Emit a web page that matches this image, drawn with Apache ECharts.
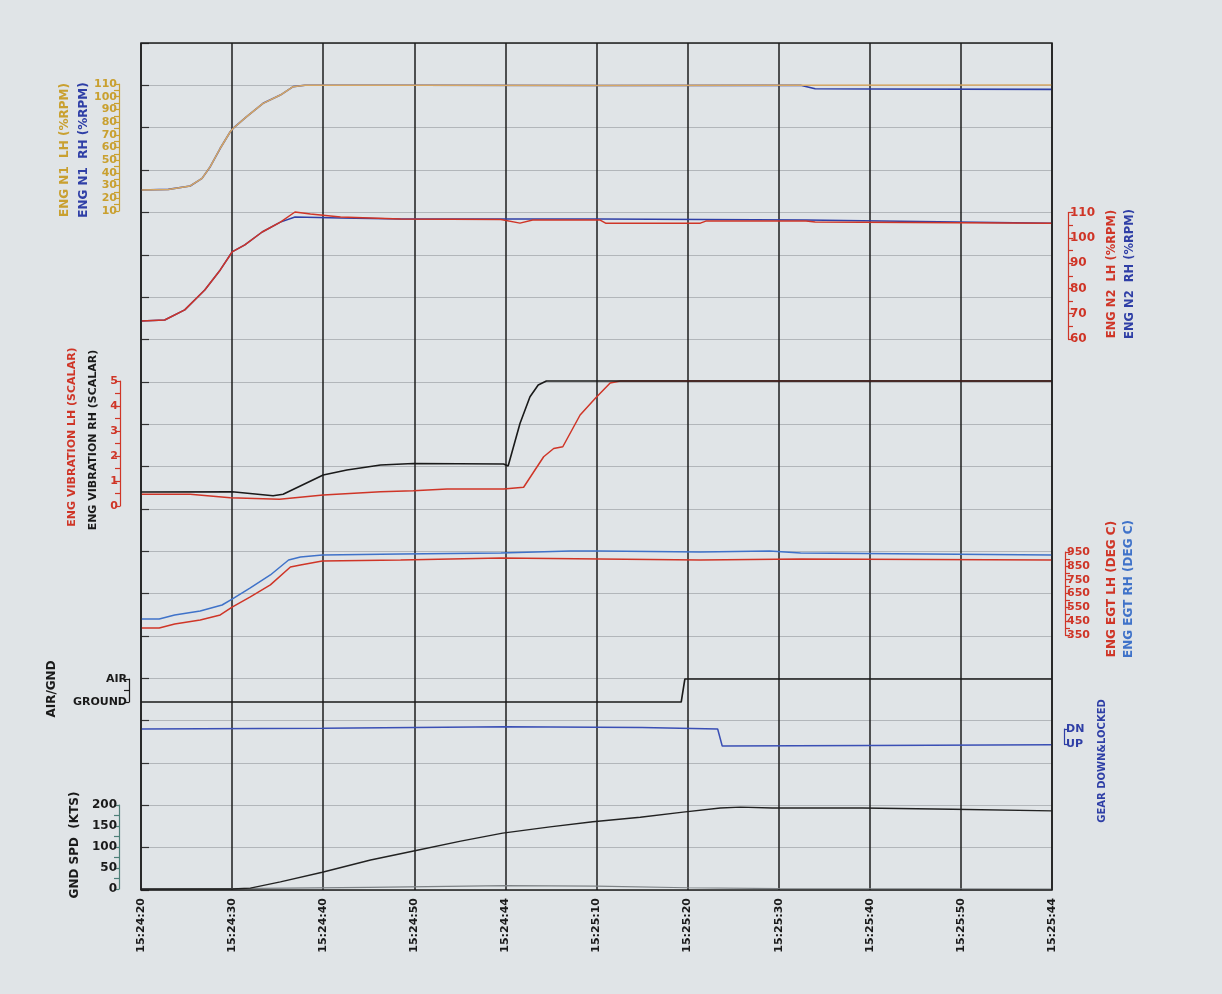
<!DOCTYPE html>
<html><head><meta charset="utf-8">
<script src="https://cdn.jsdelivr.net/npm/echarts@6/dist/echarts.min.js"></script>
<style>html,body{margin:0;padding:0;background:#e0e4e7;}#c{width:1222px;height:994px;}</style>
</head><body><div id="c"></div>
<script>
// time labels as printed on the chart (one per 10-s gridline)
const xLabels = ['15:24:20','15:24:30','15:24:40','15:24:50','15:24:44','15:25:10','15:25:20','15:25:30','15:25:40','15:25:50','15:25:44'];
// series: [seconds from start, value]
const n1LH = [[0,26.5],[3,27],[5.4,29.7],[6.7,35.7],[7.6,44.9],[8.7,59.4],[9.8,72.4],[10.1,75],[11.6,84.3],[13.4,94.8],[15.3,101.3],[16.7,107.9],[18,109],[30,109],[50,108.8],[70,109],[100,109.2]];
const n1RH = [[0,26.5],[3,27],[5.4,29.7],[6.7,35.7],[7.6,44.9],[8.7,59.4],[9.8,72.4],[10.1,75],[11.6,84.3],[13.4,94.8],[15.3,101.3],[16.7,107.9],[18,109],[30,109],[50,108.8],[72.4,109],[74,106.3],[80,106.1],[100,105.8]];
const n2LH = [[0,67.1],[2.6,67.5],[4.8,71.5],[7,79.4],[8.7,87.3],[10,94.4],[11.4,97.2],[13.3,102.3],[15.3,106.2],[16.9,110.2],[18.6,109.4],[21.9,108.2],[28.5,107.4],[39.5,107.2],[41.6,105.8],[43,107],[50.4,107],[51,105.8],[61.4,105.8],[62,106.6],[73,106.6],[74,106.2],[100,105.8]];
const n2RH = [[0,67.1],[2.6,67.5],[4.8,71.5],[7,79.4],[8.7,87.3],[10,94.4],[11.4,97.2],[13.3,102.3],[15.3,106.2],[16.9,108.2],[21.9,107.8],[28.5,107.4],[50.4,107.4],[73,107],[100,105.8]];
const vibLH = [[0,0.47],[5.4,0.47],[9.8,0.33],[15.2,0.27],[20,0.44],[26.3,0.57],[29.9,0.61],[33.6,0.68],[39.8,0.68],[42,0.75],[44.2,1.97],[45.3,2.3],[46.3,2.37],[48.2,3.64],[49.9,4.32],[51.5,4.92],[52.6,5],[100,5]];
const vibRH = [[0,0.56],[10,0.57],[14.5,0.41],[15.6,0.47],[20,1.24],[22.6,1.44],[26.3,1.64],[29.9,1.7],[39.8,1.68],[40.3,1.6],[41.6,3.3],[42.7,4.37],[43.6,4.84],[44.5,5],[100,5]];
const egtLH = [[0,401],[2,401],[3.7,430],[6.5,458],[8.7,495],[10,552],[12,625],[14.2,712],[16.4,842],[17.5,856],[19.9,885],[28.5,892],[39.5,907],[50.4,900],[61.4,892],[72.4,900],[100,892]];
const egtRH = [[0,466],[2,466],[3.7,495],[6.5,524],[8.9,567],[10,610],[12,690],[14.2,784],[16.2,892],[17.5,914],[19.9,928],[28.5,936],[39.5,943],[47.1,957],[50.4,957],[61.4,950],[69,957],[72.4,943],[100,928]];
const airGnd = [[0,0],[59.3,0],[59.7,1],[100,1]];
const gear = [[0,1],[20,1.05],[40,1.15],[55,1.1],[63.3,1],[63.8,-0.13],[80,-0.1],[100,-0.05]];
const gndSpd = [[0,0],[10,0],[12,2],[15.3,17],[19.9,40],[25.2,69],[29.8,90],[35.1,114],[39.7,133],[44.9,148],[49.6,160],[54.8,171],[59.5,183],[63.6,193],[65.8,195],[69.3,193],[79.2,193],[89.1,190],[100,186]];
const faintTrace = [[0,0],[10,1],[25,4],[40,8],[50,7],[60,3],[70,1],[100,0]];

const W = 1222, H = 994, L = 141, R = 1052, T = 43, B = 890;
const chart = echarts.init(document.getElementById('c'));
const FONT = 'DejaVu Sans';
const GOLD = '#c9a030', TAN = '#d6a764', RED = '#cf3527', BLUE = '#2f3fa6', BLUE2 = '#3f72c9', BLACK = '#1a1a1a', TEAL = '#4d7f78';

function grid(top, bottom) { return {left: L, right: W - R, top: top, bottom: H - bottom, containLabel: false}; }
const grids = [grid(T, B), grid(84, 211), grid(212.5, 339), grid(381, 506), grid(552, 635), grid(679, 702), grid(729, 744), grid(805, 889)];
const xAxes = grids.map((g, i) => ({
  type: 'value', gridIndex: i, min: 0, max: 100, interval: 10, show: i === 0,
  axisLine: {show: false}, axisTick: {show: false},
  axisLabel: {show: i === 0, rotate: 90, color: BLACK, fontFamily: FONT, fontWeight: 'bold', fontSize: 11, margin: 8,
    formatter: v => xLabels[Math.round(v / 10)]},
  splitLine: {show: i === 0, lineStyle: {color: '#1e1e1e', width: 1.5}}
}));
function yAx(gi, opt) {
  return Object.assign({
    type: 'value', gridIndex: gi, splitLine: {show: false},
    axisLine: {show: true, onZero: false, lineStyle: {color: opt.color, width: 1.2}},
    axisTick: {show: true, length: 5, lineStyle: {color: opt.color, width: 1.2}},
    minorTick: {show: opt.minor !== false, splitNumber: 2, length: 5, lineStyle: {color: opt.color, width: 1.2}},
    axisLabel: {color: opt.labelColor || opt.color, fontFamily: FONT, fontWeight: 'bold', fontSize: opt.fs || 11, margin: 2}
  }, opt.extra);
}
const yAxes = [
  {type: 'value', gridIndex: 0, min: 0, max: 20, interval: 1, axisLabel: {show: false},
   axisLine: {show: false}, axisTick: {show: true, inside: true, length: 8, lineStyle: {color: '#333', width: 1.2}},
   splitLine: {show: true, lineStyle: {color: '#b2b6ba', width: 1}}},
  yAx(1, {color: GOLD, fs: 11, extra: {min: 10, max: 110, interval: 10, position: 'left', offset: 22}}),
  yAx(2, {color: RED, fs: 12, extra: {min: 60, max: 110, interval: 10, position: 'right', offset: 16}}),
  yAx(3, {color: RED, fs: 11, extra: {min: 0, max: 5, interval: 1, position: 'left', offset: 21}}),
  yAx(4, {color: RED, fs: 11, extra: {min: 350, max: 950, interval: 100, position: 'right', offset: 13}}),
  yAx(5, {color: BLACK, minor: true, extra: {min: 0, max: 1, interval: 1, position: 'left', offset: 12,
    axisLabel: {color: BLACK, fontFamily: FONT, fontWeight: 'bold', fontSize: 11, margin: 2, formatter: v => v === 1 ? 'AIR' : 'GROUND'}}}),
  yAx(6, {color: BLUE, minor: false, extra: {min: 0, max: 1, interval: 1, position: 'right', offset: 12,
    axisLabel: {color: BLUE, fontFamily: FONT, fontWeight: 'bold', fontSize: 11, margin: 2, formatter: v => v === 1 ? 'DN' : 'UP'}}}),
  yAx(7, {color: TEAL, labelColor: BLACK, fs: 12, extra: {min: 0, max: 200, interval: 50, position: 'left', offset: 22}})
];
function line(name, data, gi, color, w, z) {
  return {name: name, type: 'line', data: data, xAxisIndex: gi, yAxisIndex: gi, showSymbol: false, clip: false,
    lineStyle: {color: color, width: w || 1.5}, itemStyle: {color: color}, z: z || 3, silent: true, animation: false};
}
const series = [
  line('ENG N1 RH', n1RH, 1, BLUE, 1.6),
  line('ENG N1 LH', n1LH, 1, TAN, 1.5, 4),
  line('ENG N2 RH', n2RH, 2, BLUE, 1.5),
  line('ENG N2 LH', n2LH, 2, RED, 1.5, 4),
  line('ENG VIBRATION LH', vibLH, 3, RED, 1.5),
  line('ENG VIBRATION RH', vibRH, 3, BLACK, 1.6, 4),
  line('ENG EGT LH', egtLH, 4, RED, 1.5),
  line('ENG EGT RH', egtRH, 4, BLUE2, 1.5),
  line('AIR/GND', airGnd, 5, BLACK, 1.6),
  line('GEAR DOWN&LOCKED', gear, 6, '#3a4fb5', 1.5),
  line('GND SPD', gndSpd, 7, '#222', 1.4, 4),
  line('trace', faintTrace, 7, '#7d8286', 1.2)
];
function vtext(text, cx, cy, color, size) {
  return {type: 'text', x: cx, y: cy, rotation: Math.PI / 2, silent: true,
    style: {text: text, fill: color, font: 'bold ' + (size || 11) + 'px "' + FONT + '"', textAlign: 'center', textVerticalAlign: 'middle'}};
}
const graphics = [
  vtext('ENG N1  LH (%RPM)', 65, 150, GOLD, 12),
  vtext('ENG N1  RH (%RPM)', 84, 150, BLUE, 12),
  vtext('ENG N2  LH (%RPM)', 1112, 274, RED, 11.5),
  vtext('ENG N2  RH (%RPM)', 1130, 274, BLUE, 11.5),
  vtext('ENG VIBRATION LH (SCALAR)', 72, 437, RED, 11),
  vtext('ENG VIBRATION RH (SCALAR)', 93, 440, BLACK, 11),
  vtext('ENG EGT LH (DEG C)', 1112, 589, RED, 12),
  vtext('ENG EGT RH (DEG C)', 1129, 589, BLUE2, 12),
  vtext('AIR/GND', 52, 689, BLACK, 12),
  vtext('GEAR DOWN&LOCKED', 1102, 761, BLUE, 10),
  vtext('GND SPD  (KTS)', 75, 845, BLACK, 12),
  {type: 'rect', shape: {x: L, y: T, width: R - L, height: B - T}, silent: true, z: 10,
   style: {fill: null, stroke: '#1e1e1e', lineWidth: 1.5}}
];
chart.setOption({
  animation: false, backgroundColor: '#e0e4e7',
  grid: grids, xAxis: xAxes, yAxis: yAxes, series: series, graphic: graphics
});
</script></body></html>
